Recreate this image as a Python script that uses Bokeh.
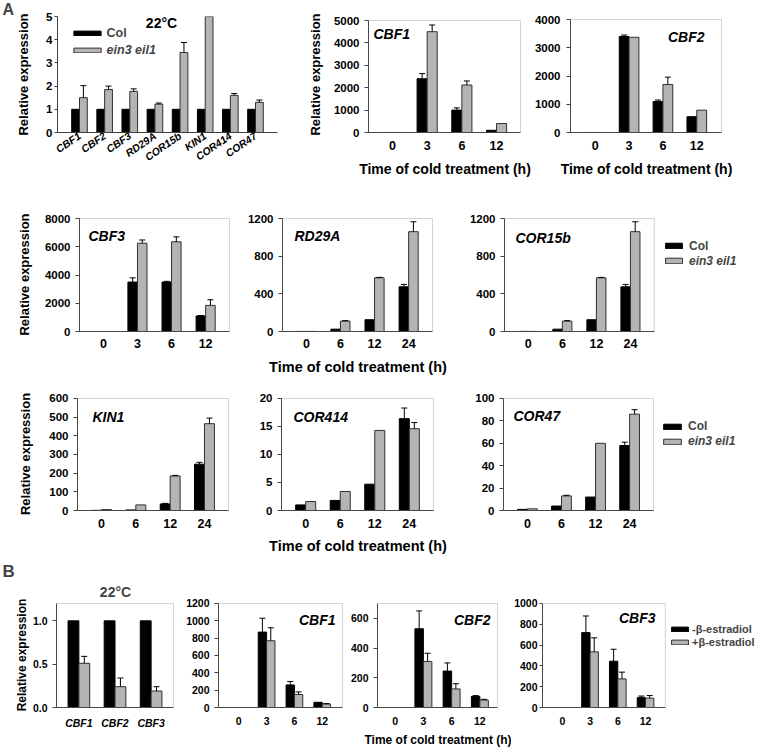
from bokeh.plotting import figure
from bokeh.models import (ColumnDataSource, Range1d, FixedTicker, Label, Legend, LegendItem,
                          NumeralTickFormatter, BoxAnnotation, Title)
from bokeh.layouts import row, column
from bokeh.embed import file_html
from bokeh.resources import INLINE

FONT = "Liberation Sans"
BLACK = "#000000"
GRAY = "#b4b4b4"
AXIS = "#404040"
BOX = "#707070"

# ---------------- data ----------------
# A: 22 C
a22_genes = ["CBF1", "CBF2", "CBF3", "RD29A", "COR15b", "KIN1", "COR414", "COR47"]
a22_col = [1, 1, 1, 1, 1, 1, 1, 1]
a22_col_err = [0, 0, 0, 0, 0, 0, 0, 0]
a22_mut = [1.50, 1.85, 1.77, 1.22, 3.45, 5.00, 1.60, 1.30]
a22_mut_err = [0.52, 0.15, 0.11, 0.05, 0.43, 0.0, 0.08, 0.10]

hours_short = ["0", "3", "6", "12"]
hours_long = ["0", "6", "12", "24"]

cbf1_col = [1, 2400, 1000, 100]
cbf1_col_err = [0, 230, 100, 0]
cbf1_mut = [1, 4500, 2120, 400]
cbf1_mut_err = [0, 300, 180, 0]

cbf2_col = [1, 3400, 1100, 560]
cbf2_col_err = [0, 50, 50, 0]
cbf2_mut = [1, 3370, 1700, 790]
cbf2_mut_err = [0, 0, 260, 0]

cbf3_col = [1, 3500, 3500, 1100]
cbf3_col_err = [0, 300, 50, 30]
cbf3_mut = [1, 6250, 6350, 1850]
cbf3_mut_err = [0, 230, 350, 400]

rd29a_col = [1, 25, 125, 475]
rd29a_col_err = [0, 0, 0, 25]
rd29a_mut = [1, 110, 570, 1060]
rd29a_mut_err = [0, 5, 5, 105]

cor15b_col = [1, 25, 125, 475]
cor15b_col_err = [0, 0, 0, 25]
cor15b_mut = [1, 110, 570, 1060]
cor15b_mut_err = [0, 5, 5, 105]

kin1_col = [1, 3, 35, 248]
kin1_col_err = [0, 0, 3, 10]
kin1_mut = [5, 30, 185, 465]
kin1_mut_err = [0, 0, 3, 30]

cor414_col = [1.0, 1.8, 4.7, 16.4]
cor414_col_err = [0, 0, 0, 1.9]
cor414_mut = [1.6, 3.4, 14.3, 14.6]
cor414_mut_err = [0, 0, 0, 1.1]

cor47_col = [1, 4, 12, 58]
cor47_col_err = [0, 0, 0, 3]
cor47_mut = [1.5, 13, 60, 86]
cor47_mut_err = [0, 0.6, 0, 4]

# B
b22_genes = ["CBF1", "CBF2", "CBF3"]
b22_minus = [1, 1, 1]
b22_minus_err = [0, 0, 0]
b22_plus = [0.51, 0.24, 0.19]
b22_plus_err = [0.08, 0.10, 0.05]

bcbf1_minus = [0, 870, 260, 60]
bcbf1_minus_err = [0, 160, 40, 0]
bcbf1_plus = [0, 770, 150, 40]
bcbf1_plus_err = [0, 150, 30, 5]

bcbf2_minus = [0, 530, 245, 75]
bcbf2_minus_err = [0, 120, 55, 5]
bcbf2_plus = [0, 310, 125, 50]
bcbf2_plus_err = [0, 55, 35, 5]

bcbf3_minus = [0, 720, 445, 95]
bcbf3_minus_err = [0, 160, 115, 15]
bcbf3_plus = [0, 535, 275, 90]
bcbf3_plus_err = [0, 135, 65, 25]

series_a = ["Col", "ein3 eil1"]
series_b = ["-\u03b2-estradiol", "+\u03b2-estradiol"]
XLAB = "Time of cold treatment (h)"
YLAB = "Relative expression"


# ---------------- helpers ----------------
class Geo:
    def __init__(self, fig, frame, box):
        self.fx, self.fy, self.w, self.h = fig
        self.x0, self.y0, self.x1, self.y1 = frame
        self.bx1, self.by0, self.by1 = box   # box right, box top (ymax), box bottom (0)


def panel(g, labels, pad, ymax, yticks, boxed=True, ytick_size="11.5px",
          xtick_size="12.5px", xtick_style="bold", xtick_stand=7,
          ylabel=None, ylabel_size="13px", ylabel_stand=12,
          xlabel=None, xlabel_size="14.5px", xlabel_stand=8,
          tick_out=4, ytick_stand=5, orient="horizontal", fmt=None):
    n = len(labels)
    ppu = (g.bx1 - g.x0) / (n + 2 * pad)
    xs = -pad
    xe = xs + (g.x1 - g.x0) / ppu
    ppv = (g.by1 - g.by0) / ymax
    ys = -(g.y1 - g.by1) / ppv
    ye = ymax + (g.by0 - g.y0) / ppv
    p = figure(width=g.w, height=g.h, x_range=Range1d(xs, xe), y_range=Range1d(ys, ye),
               output_backend="svg", toolbar_location=None,
               min_border_left=g.x0 - g.fx, min_border_right=g.fx + g.w - g.x1,
               min_border_top=g.y0 - g.fy, min_border_bottom=g.fy + g.h - g.y1)
    p.xgrid.visible = False
    p.ygrid.visible = False
    p.outline_line_color = None
    xa, ya = p.xaxis[0], p.yaxis[0]
    for ax in (xa, ya):
        ax.axis_line_color = AXIS
        ax.axis_line_width = 1
        ax.major_label_text_font = FONT
        ax.major_label_text_font_style = "bold"
        ax.major_label_text_color = "black"
        ax.axis_label_text_font = FONT
        ax.axis_label_text_font_style = "bold"
        ax.axis_label_text_color = "black"
        ax.minor_tick_line_color = None
    centers = [i + 0.5 for i in range(n)]
    xa.ticker = FixedTicker(ticks=centers)
    xa.major_label_overrides = {c: lab for c, lab in zip(centers, labels)}
    xa.bounds = (-pad, n + pad)
    ya.ticker = FixedTicker(ticks=yticks)
    ya.bounds = (0, ymax)
    ya.major_tick_out = tick_out
    ya.major_tick_in = 0
    ya.major_tick_line_color = AXIS
    ya.major_label_standoff = ytick_stand
    ya.major_label_text_font_size = ytick_size
    if fmt:
        ya.formatter = NumeralTickFormatter(format=fmt)
    if ylabel:
        ya.axis_label = ylabel
        ya.axis_label_text_font_size = ylabel_size
        ya.axis_label_standoff = ylabel_stand
    xa.major_tick_line_color = None
    xa.major_tick_out = 0
    xa.major_label_standoff = xtick_stand
    xa.major_label_text_font_size = xtick_size
    xa.major_label_text_font_style = xtick_style
    xa.major_label_orientation = orient
    if xlabel:
        xa.axis_label = xlabel
        xa.axis_label_text_font_size = xlabel_size
        xa.axis_label_standoff = xlabel_stand
    if boxed:
        p.add_layout(BoxAnnotation(left=-pad, right=n + pad, bottom=0, top=ymax,
                                   fill_color=None, fill_alpha=0, line_color=BOX, line_width=1))
    return p, centers


def bars(p, centers, v1, e1, v2, e2, bw):
    x1 = [c - bw / 2 for c in centers]
    x2 = [c + bw / 2 for c in centers]
    r1 = p.vbar(x=x1, top=v1, width=bw, fill_color=BLACK, line_color=BLACK, line_width=1)
    r2 = p.vbar(x=x2, top=v2, width=bw, fill_color=GRAY, line_color="#303030", line_width=1)
    for xx, vals, errs in ((x1, v1, e1), (x2, v2, e2)):
        sel = [i for i, e in enumerate(errs) if e > 0]
        if not sel:
            continue
        es = ColumnDataSource(dict(x=[xx[i] for i in sel], lo=[vals[i] for i in sel],
                                   hi=[vals[i] + errs[i] for i in sel]))
        p.segment(x0="x", y0="lo", x1="x", y1="hi", source=es, line_color=BLACK, line_width=1)
        p.scatter(x="x", y="hi", marker="dash", size=6, line_color=BLACK, line_width=1, source=es)
    return r1, r2


def text(p, g, s, px, py, size="14px", style="bold italic", align="left", baseline="middle"):
    p.add_layout(Label(x=px - g.x0, y=g.y1 - py, x_units="screen", y_units="screen",
                       text=s, text_font=FONT, text_font_size=size, text_font_style=style,
                       text_align=align, text_baseline=baseline, text_color="black"))


def legend(p, g, entries, px, py_top, gw, gh, lh, standoff, size, style):
    items = [LegendItem(label=lab, renderers=[r]) for lab, r in entries]
    vx = px - g.x0
    vy = g.y1 - (py_top + len(entries) * lh)
    leg = Legend(items=items, location=(vx, vy), glyph_width=gw, glyph_height=gh, label_height=lh,
                 spacing=0, padding=0, margin=0, label_standoff=standoff,
                 border_line_color=None, background_fill_alpha=0,
                 label_text_font=FONT, label_text_font_size=size, label_text_font_style=style,
                 label_text_baseline="alphabetic")
    p.add_layout(leg)


def corner_title(p, s, offset, standoff, size):
    p.title.text = s
    p.title.align = "left"
    p.title.offset = offset
    p.title.text_font = FONT
    p.title.text_font_size = size
    p.title.text_font_style = "bold"
    p.title.standoff = standoff


# ---------------- row 1 ----------------
gA1 = Geo((0, 0, 300, 203), (57, 16, 277, 132), (277, 16, 132))
pA1, cA1 = panel(gA1, a22_genes, 0.375, 5, [0, 1, 2, 3, 4, 5], boxed=False,
                 tick_out=3, ytick_stand=2, ylabel=YLAB, ylabel_stand=12,
                 xtick_size="10.5px", xtick_style="bold italic", xtick_stand=2, orient=0.6)
rA1 = bars(pA1, cA1, a22_col, a22_col_err, a22_mut, a22_mut_err, 0.31)
corner_title(pA1, "A", -55, -3, "16px")
text(pA1, gA1, "22\u00b0C", 161, 22, size="14px", style="bold", align="center")
legend(pA1, gA1, [(series_a[0], rA1[0])], 69.6, 24.5, 34, 6, 17, 3, "12.5px", "bold")
legend(pA1, gA1, [(series_a[1], rA1[1])], 69.6, 41.5, 34, 6, 17, 3, "12.5px", "bold italic")

gA2 = Geo((300, 0, 231, 203), (368, 16, 521, 132), (520, 20, 132))
pA2, cA2 = panel(gA2, hours_short, 0.19, 5000, [0, 1000, 2000, 3000, 4000, 5000],
                 ylabel=YLAB, ylabel_stand=8, xlabel=XLAB, xlabel_size="14px",
                 xtick_stand=8, xlabel_stand=8)
bars(pA2, cA2, cbf1_col, cbf1_col_err, cbf1_mut, cbf1_mut_err, 0.29)
text(pA2, gA2, "CBF1", 373, 33)

gA3 = Geo((531, 0, 224, 203), (568, 16, 722, 132), (721, 19, 132))
pA3, cA3 = panel(gA3, hours_short, 0.23, 4000, [0, 1000, 2000, 3000, 4000], ytick_stand=6,
                 xlabel=XLAB, xlabel_size="14px", xtick_stand=8, xlabel_stand=8)
bars(pA3, cA3, cbf2_col, cbf2_col_err, cbf2_mut, cbf2_mut_err, 0.29)
text(pA3, gA3, "CBF2", 702, 36, align="right")

# ---------------- row 2 ----------------
gC3 = Geo((0, 203, 244, 175), (79, 217, 230, 331), (229, 218, 331))
pC3, cC3 = panel(gC3, hours_short, 0.2, 8000, [0, 2000, 4000, 6000, 8000],
                 ylabel=YLAB, ylabel_stand=10, xtick_stand=7)
bars(pC3, cC3, cbf3_col, cbf3_col_err, cbf3_mut, cbf3_mut_err, 0.28)
text(pC3, gC3, "CBF3", 88, 235)

gRD = Geo((244, 203, 222, 175), (281, 217, 433, 331), (432, 218, 331))
pRD, cRD = panel(gRD, hours_long, 0.2, 1200, [0, 400, 800, 1200],
                 xlabel=XLAB, xtick_stand=7, xlabel_stand=8)
bars(pRD, cRD, rd29a_col, rd29a_col_err, rd29a_mut, rd29a_mut_err, 0.28)
text(pRD, gRD, "RD29A", 293, 235)

gCO = Geo((466, 203, 289, 175), (502, 217, 748, 331), (653, 218, 331))
pCO, cCO = panel(gCO, hours_long, 0.2, 1200, [0, 400, 800, 1200], xtick_stand=7)
rCO = bars(pCO, cCO, cor15b_col, cor15b_col_err, cor15b_mut, cor15b_mut_err, 0.28)
text(pCO, gCO, "COR15b", 513, 237)
legend(pCO, gCO, [(series_a[0], rCO[0])], 661, 238.3, 21, 7, 15, 5, "12px", "bold")
legend(pCO, gCO, [(series_a[1], rCO[1])], 661, 253.3, 21, 7, 15, 5, "12px", "bold italic")

# ---------------- row 3 ----------------
gK = Geo((0, 378, 244, 178), (77, 397, 229, 511), (228, 398, 511))
pK, cK = panel(gK, hours_long, 0.2, 600, [0, 100, 200, 300, 400, 500, 600],
               ylabel=YLAB, ylabel_stand=13, xtick_stand=8)
bars(pK, cK, kin1_col, kin1_col_err, kin1_mut, kin1_mut_err, 0.29)
text(pK, gK, "KIN1", 92, 417)

g414 = Geo((244, 378, 222, 178), (281, 397, 434, 511), (433, 398, 511))
p414, c414 = panel(g414, hours_long, 0.2, 20, [0, 5, 10, 15, 20],
                   xlabel=XLAB, xtick_stand=8, xlabel_stand=7)
bars(p414, c414, cor414_col, cor414_col_err, cor414_mut, cor414_mut_err, 0.29)
text(p414, g414, "COR414", 293, 417)

g47 = Geo((466, 378, 289, 178), (503, 397, 748, 511), (653, 398, 511))
p47, c47 = panel(g47, hours_long, 0.2, 100, [0, 20, 40, 60, 80, 100], xtick_stand=8)
r47 = bars(p47, c47, cor47_col, cor47_col_err, cor47_mut, cor47_mut_err, 0.29)
text(p47, g47, "COR47", 513, 416)
legend(p47, g47, [(series_a[0], r47[0])], 661, 419.8, 22, 7, 15, 5, "12px", "bold")
legend(p47, g47, [(series_a[1], r47[1])], 661, 434.8, 22, 7, 15, 5, "12px", "bold italic")

# ---------------- row B ----------------
BT = dict(ytick_size="10.5px", xtick_size="10.5px", xtick_stand=9)
gB1 = Geo((0, 556, 183, 193), (56, 602, 174, 708), (173, 603, 708))
pB1, cB1 = panel(gB1, b22_genes, 0.12, 1.2, [0, 0.5, 1.0], fmt="0.0",
                 ylabel=YLAB, ylabel_size="12px", ylabel_stand=1, xtick_style="bold italic", **BT)
bars(pB1, cB1, b22_minus, b22_minus_err, b22_plus, b22_plus_err, 0.3)
corner_title(pB1, "B", -54, -3, "17px")
pB1.add_layout(Title(text="22\u00b0C", align="center", text_font=FONT, text_font_size="14px",
                     text_font_style="bold", standoff=5), "above")

gB2 = Geo((183, 556, 164, 193), (215, 602, 343, 708), (342, 603, 708))
pB2, cB2 = panel(gB2, hours_short, 0.228, 1200, [0, 200, 400, 600, 800, 1000, 1200], **BT)
bars(pB2, cB2, bcbf1_minus, bcbf1_minus_err, bcbf1_plus, bcbf1_plus_err, 0.3)
text(pB2, gB2, "CBF1", 332, 620, align="right")

gB3 = Geo((347, 556, 164, 193), (375, 602, 498, 708), (497, 603, 708))
pB3, cB3 = panel(gB3, hours_short, 0.125, 700, [0, 200, 400, 600],
                 xlabel=XLAB, xlabel_size="12px", xlabel_stand=5, **BT)
bars(pB3, cB3, bcbf2_minus, bcbf2_minus_err, bcbf2_plus, bcbf2_plus_err, 0.3)
text(pB3, gB3, "CBF2", 488, 620, align="right")

gB4 = Geo((511, 556, 244, 193), (540, 602, 755, 708), (664, 603, 708))
pB4, cB4 = panel(gB4, hours_short, 0.214, 1000, [0, 200, 400, 600, 800, 1000],
                 tick_out=3, ytick_stand=2, **BT)
rB4 = bars(pB4, cB4, bcbf3_minus, bcbf3_minus_err, bcbf3_plus, bcbf3_plus_err, 0.3)
text(pB4, gB4, "CBF3", 653, 618, align="right")
legend(pB4, gB4, [(series_b[0], rB4[0]), (series_b[1], rB4[1])], 667, 623, 21, 6, 13, 2,
       "11px", "bold")

layout = column(
    row(pA1, pA2, pA3, spacing=0),
    row(pC3, pRD, pCO, spacing=0),
    row(pK, p414, p47, spacing=0),
    row(pB1, pB2, pB3, pB4, spacing=0),
    spacing=0,
)

open("out.html", "w").write(file_html(layout, INLINE))
